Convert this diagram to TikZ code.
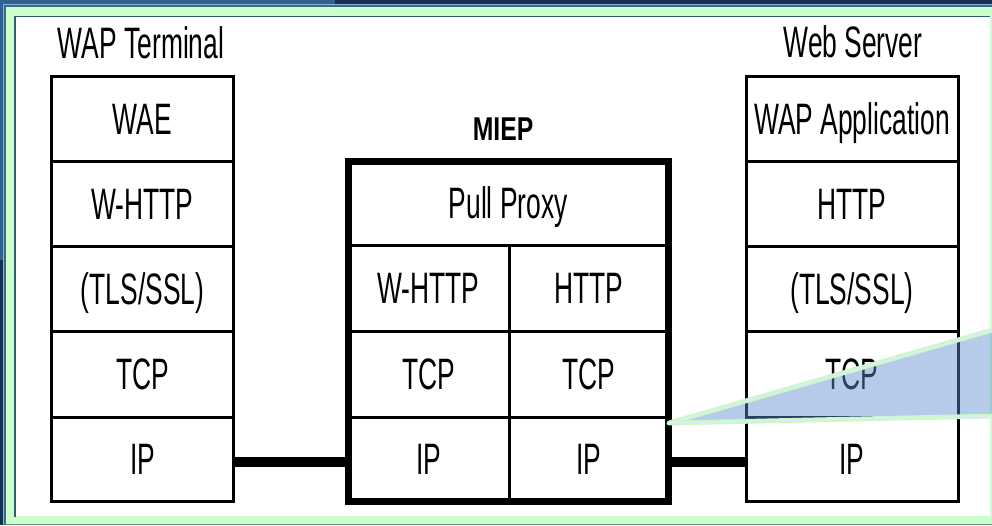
\documentclass[tikz,border=0pt]{standalone}
\usepackage{fontspec}
\newfontfamily\lblfont[FakeStretch=0.6]{Liberation Sans}
\newfontfamily\headfont[FakeStretch=0.75]{Liberation Sans}
\definecolor{bandblue}{HTML}{30628F}
\definecolor{bandnavy}{HTML}{13304F}
\definecolor{bandmid}{HTML}{3A6A8A}
\definecolor{bandlight}{HTML}{8FB0CF}
\definecolor{framegreen}{HTML}{CCFFCC}
\definecolor{frameteal}{HTML}{2F5F6F}
\definecolor{framebase}{HTML}{5F8F80}
\definecolor{wedgeblue}{HTML}{5F8CD0}
\definecolor{wedgeedge}{HTML}{C8FAC8}
\definecolor{wedgegap}{HTML}{E4E8F8}
\tikzset{
  cell/.style={draw=black, line width=3pt, inner sep=0pt, outer sep=0pt,
    font=\lblfont\fontsize{44}{44}\selectfont, text height=31.5pt, text depth=0pt},
  title/.style={inner sep=0pt, outer sep=0pt,
    font=\lblfont\fontsize{44}{44}\selectfont, text height=31.5pt, text depth=0pt},
  boldtitle/.style={inner sep=0pt, outer sep=0pt,
    font=\headfont\bfseries\fontsize{33}{33}\selectfont, text height=23.6pt, text depth=0pt},
  miepframe/.style={draw=black, line width=7pt, inner sep=0pt, outer sep=0pt},
  link/.style={draw=black, line width=10pt},
  wedgefill/.style={fill=wedgeblue, fill opacity=0.45},
  wedgeline/.style={draw=wedgeedge, line width=1.8pt, double=wedgegap, double distance=1.2pt, line join=round, line cap=round},
}
\begin{document}
\begin{tikzpicture}[x=1pt, y=-1pt]
  \useasboundingbox (0,0) rectangle (992,525);
  \clip (0,0) rectangle (992,525);

  % slide frame
  \fill[bandnavy] (0,0) rectangle (992,525);
  \fill[bandblue] (0,0) rectangle (335,4.5);
  \fill[bandblue] (0,0) rectangle (2.7,260);
  \fill[bandmid] (3.7,5) rectangle (992,525);
  \draw[bandlight, line width=1pt] (3.2,525) -- (3.2,4.6) -- (992,4.6);
  \fill[framegreen] (6,7) rectangle (992,523.5);
  \draw[framebase, line width=1pt] (6,524.5) -- (992,524.5);
  \fill[white] (15.5,17) rectangle (990,516);
  \draw[frameteal, line width=1.5pt] (15,516.5) -- (15,16.5) -- (990,16.5);

  % WAP terminal stack
  \node[title] (lhead) at (141,43) {WAP Terminal};
  \node[cell, minimum width=182pt, minimum height=85.5pt] (lwae)   at (142.5,118.75) {WAE};
  \node[cell, minimum width=182pt, minimum height=85pt]   (lwhttp) at (142.5,204)    {W-HTTP};
  \node[cell, minimum width=182pt, minimum height=84.5pt] (ltls)   at (142.5,288.75) {(TLS/SSL)};
  \node[cell, minimum width=182pt, minimum height=86pt]   (ltcp)   at (142.5,374)    {TCP};
  \node[cell, minimum width=182pt, minimum height=84pt]   (lip)    at (142.5,459)    {IP};

  % web server stack
  \node[title] (rhead) at (853,42) {Web Server};
  \node[cell, minimum width=212pt, minimum height=85.5pt] (rapp)  at (852,118.75) {WAP Application};
  \node[cell, minimum width=212pt, minimum height=85pt]   (rhttp) at (852,204)    {HTTP};
  \node[cell, minimum width=212pt, minimum height=84.5pt] (rtls)  at (852,288.75) {(TLS/SSL)};
  \node[cell, minimum width=212pt, minimum height=86pt]   (rtcp)  at (852,374)    {TCP};
  \node[cell, minimum width=212pt, minimum height=84pt]   (rip)   at (852,459)    {IP};

  % MIEP gateway
  \node[boldtitle] (miephead) at (503,129) {MIEP};
  \node[cell, minimum width=320.5pt, minimum height=84pt] (mpull)  at (508.25,203) {Pull Proxy};
  \node[cell, minimum width=161pt,   minimum height=86pt] (mwhttp) at (428.5,288)  {W-HTTP};
  \node[cell, minimum width=159.5pt, minimum height=86pt] (mhttp)  at (588.75,288) {HTTP};
  \node[cell, minimum width=161pt,   minimum height=86pt] (mtcpl)  at (428.5,374)  {TCP};
  \node[cell, minimum width=159.5pt, minimum height=86pt] (mtcpr)  at (588.75,374) {TCP};
  \node[cell, minimum width=161pt,   minimum height=84pt] (mipl)   at (428.5,459)  {IP};
  \node[cell, minimum width=159.5pt, minimum height=84pt] (mipr)   at (588.75,459) {IP};
  \node[miepframe, minimum width=320.5pt, minimum height=340pt] (miep) at (508.25,331) {};

  % physical links
  \draw[link] ([yshift=-3pt]lip.east) -- ([yshift=-3pt]mipl.west);
  \draw[link] ([yshift=-3pt]mipr.east) -- ([yshift=-3pt]rip.west);

  % callout wedge
  \coordinate (tip) at (669,423);
  \coordinate (wtop) at (996,329);
  \coordinate (wbot) at (996,416);
  \fill[wedgefill] (tip) -- (wtop) -- (wbot) -- cycle;
  \draw[wedgeline] (wtop) -- (tip) -- (wbot);
\end{tikzpicture}
\end{document}
